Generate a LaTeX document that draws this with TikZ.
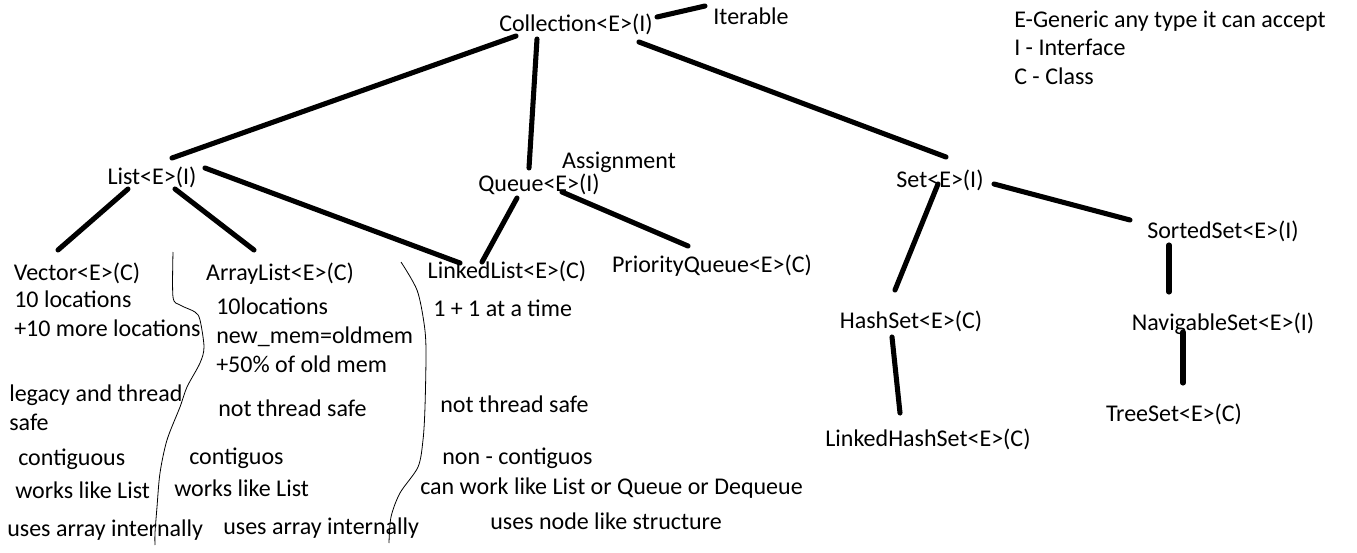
\documentclass[tikz,border=0pt]{standalone}
\usepackage{fontspec}
\setmainfont{Carlito}
\begin{document}
\begin{tikzpicture}[x=0.75pt,y=-0.75pt,
  tnode/.style={inner sep=0pt,text height=17pt,text depth=4pt,font=\fontsize{18}{20}\selectfont},
  lbl/.style={anchor=west,inner sep=0pt,text height=17pt,text depth=4pt,font=\fontsize{18}{20}\selectfont},
  conn/.style={line width=3.8pt,line cap=round},
  sep/.style={line width=0.6pt}]
\useasboundingbox (0,0) rectangle (1357,553);
% tree nodes
\node[tnode] (coll) at (576,23) {Collection<E>(I)};
\node[tnode] (iter) at (751,16) {Iterable};
\node[tnode] (list) at (152,176) {List<E>(I)};
\node[tnode] (queue) at (539,183) {Queue<E>(I)};
\node[tnode] (assign) at (619,160) {Assignment};
\node[tnode] (set) at (940,179) {Set<E>(I)};
\node[tnode] (sorted) at (1223,230) {SortedSet<E>(I)};
\node[tnode] (vector) at (77,272) {Vector<E>(C)};
\node[tnode] (alist) at (280,272) {ArrayList<E>(C)};
\node[tnode] (llist) at (507,270) {LinkedList<E>(C)};
\node[tnode] (pq) at (712,264) {PriorityQueue<E>(C)};
\node[tnode] (hset) at (911,320) {HashSet<E>(C)};
\node[tnode] (nav) at (1223,322) {NavigableSet<E>(I)};
\node[tnode] (lhs) at (928,438) {LinkedHashSet<E>(C)};
\node[tnode] (tree) at (1174,413) {TreeSet<E>(C)};
% legend
\node[lbl] (leg1) at (1014,19) {E-Generic any type it can accept};
\node[lbl] (leg2) at (1014,47) {I - Interface};
\node[lbl] (leg3) at (1014,76) {C - Class};
% Vector notes
\node[lbl] (v1) at (14,299) {10 locations};
\node[lbl] (v2) at (14,328) {+10 more locations};
\node[lbl] (v3) at (9,393) {legacy and thread};
\node[lbl] (v4) at (9,422) {safe};
\node[lbl] (v5) at (18,457) {contiguous};
\node[lbl] (v6) at (15,490) {works like List};
\node[lbl] (v7) at (7,528) {uses array internally};
% ArrayList notes
\node[lbl] (a1) at (216,306) {10locations};
\node[lbl] (a2) at (216,335) {new\_mem=oldmem};
\node[lbl] (a3) at (216,364) {+50\% of old mem};
\node[lbl] (a4) at (218,408) {not thread safe};
\node[lbl] (a5) at (189,456) {contiguos};
\node[lbl] (a6) at (174,488) {works like List};
\node[lbl] (a7) at (223,526) {uses array internally};
% LinkedList notes
\node[lbl] (l1) at (433,308) {1 + 1 at a time};
\node[lbl] (l2) at (440,404) {not thread safe};
\node[lbl] (l3) at (442,456) {non - contiguos};
\node[lbl] (l4) at (420,486) {can work like List or Queue or Dequeue};
\node[lbl] (l5) at (490,521) {uses node like structure};
% connectors
\draw[conn] ([shift={(-60,13)}]coll.center) -- ([shift={(20,-18)}]list.center);
\draw[conn] ([shift={(-39,16)}]coll.center) -- ([shift={(-10,-15)}]queue.center);
\draw[conn] ([shift={(63,19)}]coll.center) -- ([shift={(6,-22)}]set.center);
\draw[conn] ([shift={(81,-6)}]coll.center) -- ([shift={(-46,-10)}]iter.center);
\draw[conn] ([shift={(-24,13)}]list.center) -- ([shift={(-19,-22)}]vector.center);
\draw[conn] ([shift={(23,13)}]list.center) -- ([shift={(-26,-22)}]alist.center);
\draw[conn] ([shift={(53,-8)}]list.center) -- ([shift={(-47,-7)}]llist.center);
\draw[conn] ([shift={(-22,15)}]queue.center) -- ([shift={(-25,-8)}]llist.center);
\draw[conn] ([shift={(23,9)}]queue.center) -- ([shift={(-24,-18)}]pq.center);
\draw[conn] ([shift={(54,5)}]set.center) -- ([shift={(-93,-10)}]sorted.center);
\draw[conn] ([shift={(-2,5)}]set.center) -- ([shift={(-16,-30)}]hset.center);
\draw[conn] ([shift={(-54,15)}]sorted.center) -- ([shift={(-54,-30)}]nav.center);
\draw[conn] ([shift={(-40,10)}]nav.center) -- ([shift={(9,-30)}]tree.center);
\draw[conn] ([shift={(-19,17)}]hset.center) -- ([shift={(-28,-25)}]lhs.center);
% hand-drawn separators
\draw[sep] plot[smooth] coordinates {(173,252) (173,297) (180,305) (195,312) (200,320) (204,347) (200,363) (187,387) (180,407) (167,440) (160,473) (157,507) (155,533) (155,545)};
\draw[sep] plot[smooth] coordinates {(401,262) (417,290) (424,323) (426,350) (425,407) (423,440) (418,467) (400,493) (391,517) (389,543)};
\end{tikzpicture}
\end{document}
